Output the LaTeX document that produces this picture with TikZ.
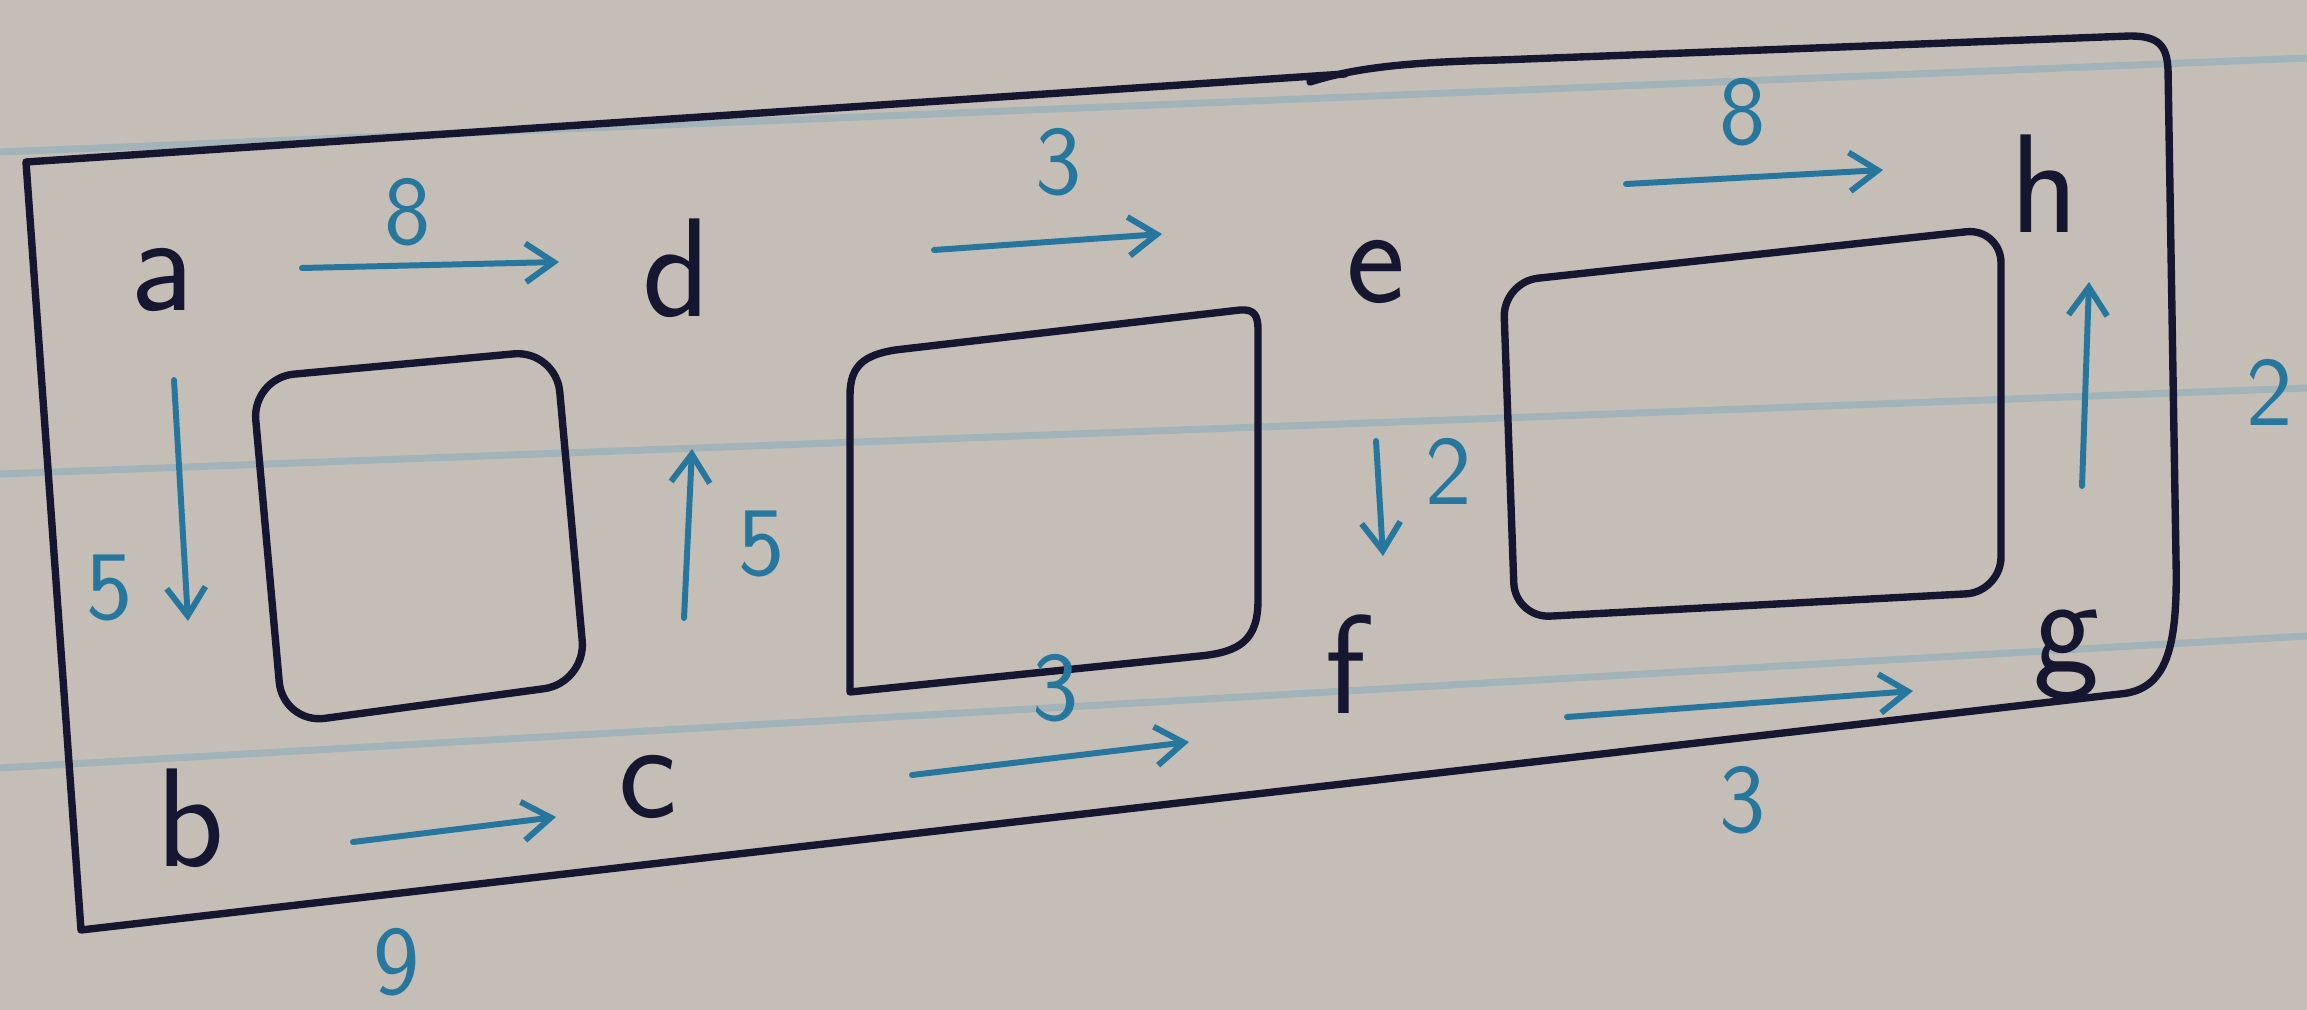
\documentclass[tikz,border=0pt]{standalone}
\usetikzlibrary{arrows.meta}
\definecolor{paper}{RGB}{196,190,183}
\definecolor{ink}{RGB}{22,22,48}
\definecolor{pen}{RGB}{38,118,158}
\definecolor{rule}{RGB}{135,170,188}
\tikzset{
  letter/.style={text=ink,font=\sffamily\fontsize{40}{44}\selectfont,inner sep=0pt},
  weight/.style={text=pen,font=\sffamily\fontsize{28}{32}\selectfont,inner sep=0pt},
  outline/.style={draw=ink,line width=2.1pt,line join=round,line cap=round},
  arr/.style={draw=pen,line width=1.7pt,line cap=round,-{Straight Barb[length=8pt,width=11pt,line width=1.7pt]}},
  ruled/.style={draw=rule,line width=2pt,opacity=0.55}
}
\begin{document}
\begin{tikzpicture}[x=0.01cm,y=-0.01cm]
\useasboundingbox (0,0) rectangle (2307,1010);
\fill[paper] (0,0) rectangle (2307,1010);
% ruled paper lines
\draw[ruled] (0,152) -- (2307,58);
\draw[ruled] (0,474) -- (2307,388);
\draw[ruled] (0,768) -- (2307,636);
% outer boundary
\draw[outline] (1345,74) -- (26,162) -- (81,930) -- (2120,694)
  .. controls (2166,690) and (2178,650) .. (2176,560)
  -- (2168,70) .. controls (2167,45) and (2158,36) .. (2130,36)
  -- (1500,60) .. controls (1420,62) and (1360,66) .. (1310,82);
% inner boxes
\draw[outline,rounded corners=12pt] (252,378) -- (556,350) -- (586,683) -- (283,724) -- cycle;
\draw[outline] (850,692) -- (850,395) .. controls (850,365) and (865,355) .. (895,350)
  -- (1240,310) .. controls (1254,309) and (1258,315) .. (1258,330)
  -- (1258,600) .. controls (1258,640) and (1240,652) .. (1200,656) -- cycle;
\draw[outline,rounded corners=10pt] (1503,282) -- (2001,228) -- (2001,592) -- (1515,618) -- cycle;
% vertices
\node[letter] (a) at (162,280) {a};
\node[letter] (d) at (677,268) {d};
\node[letter] (e) at (1376,272) {e};
\node[letter] (h) at (2045,184) {h};
\node[letter] (b) at (191,818) {b};
\node[letter] (c) at (648,787) {c};
\node[letter] (f) at (1346,664) {f};
\node[letter] (g) at (2067,655) {g};
% arrow ends
\coordinate (ad1) at (302,268); \coordinate (ad2) at (559,262);
\coordinate (de1) at (934,250); \coordinate (de2) at (1162,234);
\coordinate (eh1) at (1626,184); \coordinate (eh2) at (1883,170);
\coordinate (ab1) at (174,380); \coordinate (ab2) at (188,621);
\coordinate (cd1) at (684,618); \coordinate (cd2) at (692,449);
\coordinate (ef1) at (1376,441); \coordinate (ef2) at (1383,556);
\coordinate (gh1) at (2082,486); \coordinate (gh2) at (2089,282);
\coordinate (bc1) at (353,842); \coordinate (bc2) at (556,817);
\coordinate (cf1) at (912,775); \coordinate (cf2) at (1189,742);
\coordinate (fg1) at (1567,717); \coordinate (fg2) at (1913,691);
\draw[arr] (ad1) -- (ad2);
\draw[arr] (de1) -- (de2);
\draw[arr] (eh1) -- (eh2);
\draw[arr] (ab1) -- (ab2);
\draw[arr] (cd1) -- (cd2);
\draw[arr] (ef1) -- (ef2);
\draw[arr] (gh1) -- (gh2);
\draw[arr] (bc1) -- (bc2);
\draw[arr] (cf1) -- (cf2);
\draw[arr] (fg1) -- (fg2);
% weights
\node[weight] (wad) at (408,212) {8};
\node[weight] (wde) at (1059,162) {3};
\node[weight] (weh) at (1743,112) {8};
\node[weight] (wab) at (110,588) {5};
\node[weight] (wcd) at (762,544) {5};
\node[weight] (wef) at (1449,471) {2};
\node[weight] (wgh) at (2270,392) {2};
\node[weight] (wbc) at (397,962) {9};
\node[weight] (wcf) at (1056,688) {3};
\node[weight] (wfg) at (1743,800) {3};
\end{tikzpicture}
\end{document}
